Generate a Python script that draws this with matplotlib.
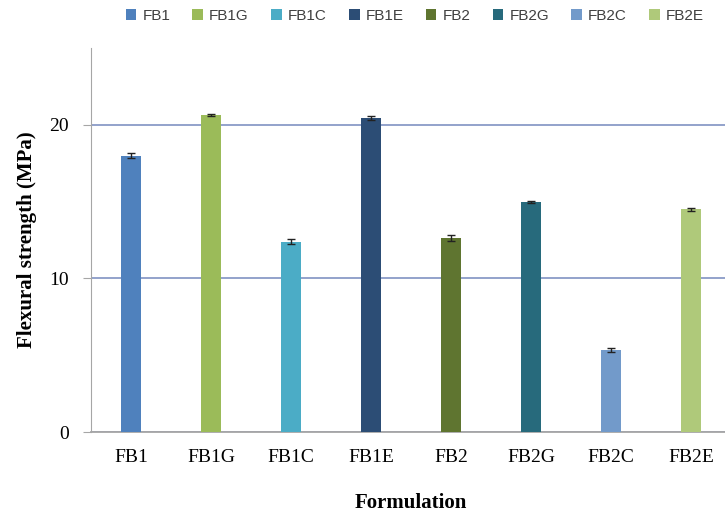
import matplotlib
matplotlib.use("Agg")
import matplotlib.pyplot as plt
import numpy as np

# data
names = ["FB1", "FB1G", "FB1C", "FB1E", "FB2", "FB2G", "FB2C", "FB2E"]
strength = [18.0, 20.65, 12.4, 20.45, 12.65, 15.0, 5.35, 14.5]
errors = [0.15, 0.08, 0.15, 0.12, 0.2, 0.07, 0.12, 0.1]
colors = ["#4F81BD", "#9BBB59", "#4BACC6", "#2C4D75",
          "#5F7530", "#276A7C", "#729ACA", "#AFC97A"]

fig = plt.figure(figsize=(7.25, 5.17), dpi=100)
ax = fig.add_axes([0.1255, 0.1644, 0.8828, 0.7427])

x = np.arange(len(names))
bars = []
for i in range(len(names)):
    b = ax.bar(x[i], strength[i], width=0.24, color=colors[i], label=names[i],
               yerr=errors[i], capsize=3,
               error_kw=dict(ecolor="#222222", elinewidth=1, capthick=1),
               zorder=3)
    bars.append(b)

ax.set_xlim(-0.5, 7.5)
ax.set_ylim(0, 25)
ax.set_yticks([0, 10, 20])
ax.set_xticks(x)
ax.set_xticklabels(names, family="Liberation Serif", fontsize=14)
for t in ax.get_yticklabels():
    t.set_family("Liberation Serif")
    t.set_fontsize(14)

ax.yaxis.grid(True, color="#8A9BC7", linewidth=1.3, zorder=0)
ax.set_axisbelow(True)
for s in ["top", "right"]:
    ax.spines[s].set_visible(False)
ax.spines["left"].set_color("#A6A6A6")
ax.spines["bottom"].set_color("#A6A6A6")
ax.spines["bottom"].set_linewidth(1.3)
ax.tick_params(axis="x", length=0, pad=12)
ax.tick_params(axis="y", length=6, color="#A6A6A6", pad=10)

ax.set_ylabel("Flexural strength (MPa)", family="Liberation Serif",
              fontsize=15, fontweight="bold", labelpad=9)
ax.set_xlabel("Formulation", family="Liberation Serif",
              fontsize=15, fontweight="bold", labelpad=20)

fig.legend(handles=bars, labels=names, loc="upper center",
           bbox_to_anchor=(0.572, 1.01), ncol=8, frameon=False,
           prop=dict(family="Liberation Sans", size=11),
           handlelength=0.7, handleheight=0.7, handletextpad=0.4,
           columnspacing=1.45, labelcolor="#404040")

fig.savefig("out.png", dpi=100)
